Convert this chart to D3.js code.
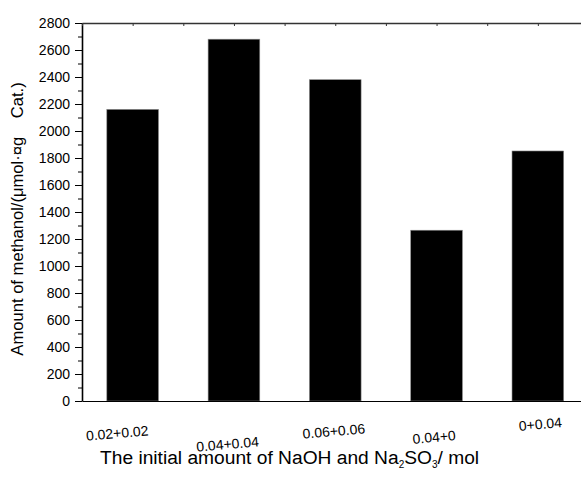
<!DOCTYPE html>
<html>
<head>
<meta charset="utf-8">
<script src="https://cdn.jsdelivr.net/npm/d3@7"></script>
<style>
  body { margin: 0; background: #fff; }
  text { font-family: Arial, "Liberation Sans", sans-serif; }
</style>
</head>
<body>
<svg id="chart" width="581" height="480"></svg>
<script>
// data
const categories = ['0.02+0.02', '0.04+0.04', '0.06+0.06', '0.04+0', '0+0.04'];
const methanol = [2160, 2680, 2380, 1265, 1852];
const yTicks = d3.range(0, 2801, 200);

// label layout (the original labels are staggered a bit)
const labelNudgeX = [-15, -6, -1, -2, 3];
const labelNudgeY = [0, 11, -2, 4, -9];

const margin = {top: 23, left: 82, bottom: 79};
const svg = d3.select('#chart');
const H = +svg.attr('height');
const plotRight = margin.left + 5 * 101.3; // right side runs past the page edge
const yBottom = H - margin.bottom;

const x = d3.scaleBand()
  .domain(categories)
  .range([margin.left, plotRight])
  .paddingInner(0.49)
  .paddingOuter(0.245);

// same span as numbers, for the half-step ticks on the top frame
const xTop = d3.scaleLinear().domain([0.5, 5.5]).range([margin.left, plotRight]);

const y = d3.scaleLinear().domain([0, 2800]).range([yBottom, margin.top]);

// bars
svg.append('g').selectAll('rect')
  .data(methanol)
  .enter().append('rect')
  .attr('x', (d, i) => x(categories[i]))
  .attr('y', d => y(d))
  .attr('width', x.bandwidth())
  .attr('height', d => y(0) - y(d))
  .attr('fill', '#000')
  .attr('stroke', '#888')
  .attr('stroke-width', 0.6);

// y axis, minor ticks first
svg.append('g')
  .attr('transform', `translate(${margin.left},0)`)
  .call(d3.axisLeft(y).tickValues(d3.range(100, 2800, 200)).tickSize(4).tickFormat(''))
  .call(g => g.select('.domain').remove());

svg.append('g')
  .attr('transform', `translate(${margin.left},0)`)
  .call(d3.axisLeft(y).tickValues(yTicks).tickFormat(d3.format('d')).tickSize(7).tickPadding(5).tickSizeOuter(0))
  .call(g => g.selectAll('text').attr('font-size', 14).attr('fill', '#000').attr('font-family', 'Arial, "Liberation Sans", sans-serif'))
  .call(g => g.select('.domain').attr('stroke-width', 1.6));

// top frame with small inward ticks
svg.append('g')
  .attr('transform', `translate(0,${margin.top})`)
  .call(d3.axisTop(xTop).tickValues(d3.range(0.5, 5.51, 0.5)).tickSize(-3).tickSizeOuter(0).tickFormat(''))
  .call(g => g.select('.domain').attr('stroke', '#333').attr('stroke-width', 1.5))
  .call(g => g.selectAll('.tick line').attr('stroke', '#333'));

// bottom axis line, no ticks
svg.append('g')
  .attr('transform', `translate(0,${yBottom})`)
  .call(d3.axisBottom(x).tickSize(0).tickSizeOuter(0).tickFormat(''))
  .call(g => g.select('.domain').attr('stroke-width', 1.2));

// slanted category labels
svg.append('g').selectAll('text')
  .data(categories)
  .enter().append('text')
  .attr('transform', (d, i) => `translate(${x(d) + x.bandwidth() / 2 + labelNudgeX[i]},${438 + labelNudgeY[i]}) rotate(-5)`)
  .attr('text-anchor', 'middle')
  .attr('font-size', 14)
  .text(d => d);

// x title with subscripts
const xt = svg.append('text')
  .attr('x', 100)
  .attr('y', 464)
  .attr('font-size', 19.2);
xt.append('tspan').text('The initial amount of NaOH and Na');
xt.append('tspan').attr('font-size', 10).attr('dy', 4).text('2');
xt.append('tspan').attr('dy', -4).text('SO');
xt.append('tspan').attr('font-size', 10).attr('dy', 4).text('3');
xt.append('tspan').attr('dy', -4).text('/ mol');

// y title
svg.append('text')
  .attr('transform', 'translate(23,219) rotate(-90)')
  .attr('text-anchor', 'middle')
  .attr('font-size', 16.6)
  .style('white-space', 'pre')
  .text('Amount of methanol/(\u03bcmol\u00b7\u00a4g    Cat.)');
</script>
</body>
</html>
